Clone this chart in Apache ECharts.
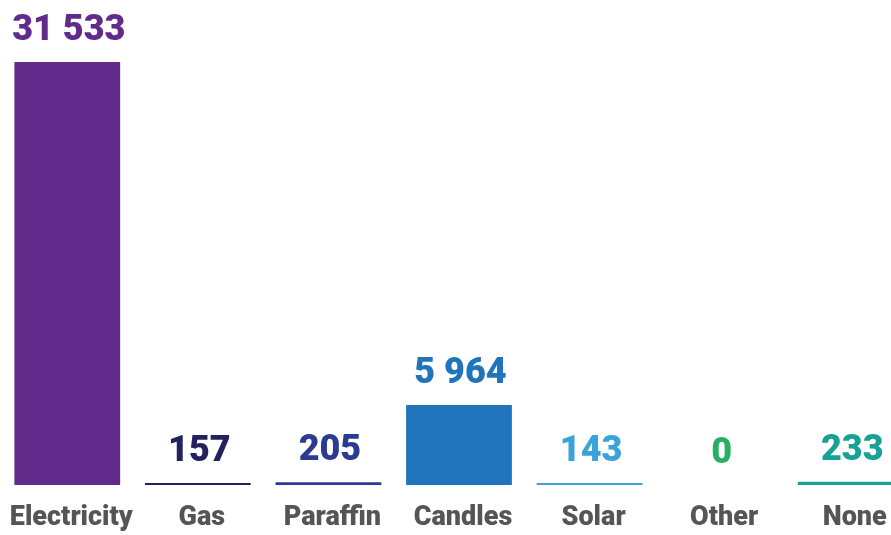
<!DOCTYPE html>
<html>
<head>
<meta charset="utf-8">
<script src="https://cdn.jsdelivr.net/npm/echarts@6/dist/echarts.min.js"></script>
<style>
  html, body { margin: 0; padding: 0; background: #ffffff; }
  #chart { width: 891px; height: 535px; }
</style>
</head>
<body>
<div id="chart"></div>
<script>
// Main source of energy for lighting (households)
const categories = ['Electricity', 'Gas', 'Paraffin', 'Candles', 'Solar', 'Other', 'None'];
const values = [31533, 157, 205, 5964, 143, 0, 233];
const colors = ['#622b8b', '#23225f', '#2b3a92', '#1f74bc', '#3aa3dc', '#2aae63', '#17a295'];

function formatThousands(v) {
  return String(v).replace(/\B(?=(\d{3})+(?!\d))/g, ' ');
}

const chart = echarts.init(document.getElementById('chart'));
chart.setOption({
  backgroundColor: '#ffffff',
  animation: false,
  grid: {
    left: 2, top: 62, bottom: 50, width: 914,
    containLabel: false,
    outerBoundsMode: 'none'
  },
  xAxis: {
    type: 'category',
    data: categories,
    axisLine: { show: false },
    axisTick: { show: false },
    axisLabel: {
      interval: 0,
      margin: 20,
      padding: [0, 0, 0, 8],
      color: '#555555',
      fontFamily: 'Roboto',
      fontWeight: 900,
      fontSize: 27
    }
  },
  yAxis: {
    type: 'value',
    min: 0,
    max: 31533,
    show: false,
    splitLine: { show: false }
  },
  series: [{
    type: 'bar',
    barCategoryGap: '19%',
    data: values.map((v, i) => ({
      value: v,
      itemStyle: { color: colors[i] },
      label: { color: colors[i] }
    })),
    label: {
      show: true,
      position: 'top',
      distance: 13,
      padding: [0, 0, 0, 3],
      fontFamily: 'Roboto',
      fontWeight: 900,
      fontSize: 36,
      formatter: p => formatThousands(p.value)
    }
  }]
});
</script>
</body>
</html>
